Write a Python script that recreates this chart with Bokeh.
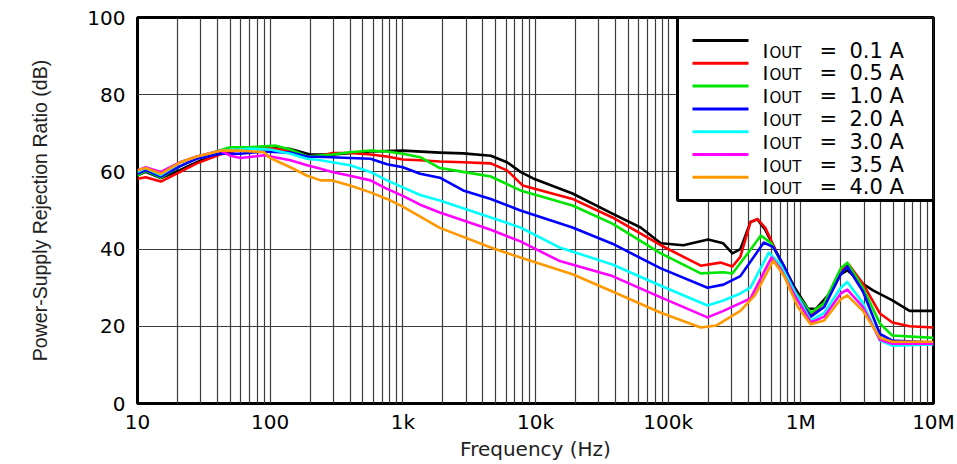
from bokeh.plotting import figure
from bokeh.models import FixedTicker, BoxAnnotation, Label, Range1d
from bokeh.embed import file_html
from bokeh.resources import INLINE

# ---- data ----
labels = ["0.1 A", "0.5 A", "1.0 A", "2.0 A", "3.0 A", "3.5 A", "4.0 A"]
colors = ["#000000", "#ff0000", "#00e600", "#0000ff", "#00ffff", "#ff00ff", "#ff9900"]

f_01 = [10, 11.5, 15, 21, 28, 42, 60, 90, 140, 200, 300, 570, 1000, 1900, 2850, 4600, 6100, 7700, 9600, 19000,
        38000, 62000, 88000, 130000, 200000, 260000, 305000, 350000, 417000, 471000, 540000, 660000, 900000,
        1130000, 1300000, 1600000, 2000000, 2240000, 2940000, 3500000, 4900000, 6600000, 10000000]
db_01 = [59.1, 60.0, 58.4, 60.5, 62.5, 65.0, 66.0, 66.5, 66.0, 64.5, 64.5, 65.3, 65.5, 65.0, 64.8, 64.2, 62.5, 60.0,
         58.3, 54.4, 49.2, 45.6, 41.5, 41.0, 42.5, 41.5, 38.9, 40.0, 47.0, 47.7, 45.0, 39.0, 30.0, 24.6, 24.5, 28.0,
         33.5, 34.5, 31.0, 29.3, 26.7, 24.0, 24.0]

f_05 = [10, 11.5, 15, 21, 28, 42, 60, 90, 140, 190, 240, 294, 400, 570, 760, 1000, 1350, 1900, 2850, 4600, 6100,
        8000, 19000, 38000, 88000, 176000, 248000, 305000, 350000, 417000, 471000, 540000, 660000, 900000, 1190000,
        1500000, 2000000, 2300000, 2940000, 3950000, 4900000, 6600000, 10000000]
db_05 = [58.2, 58.6, 57.5, 60.0, 62.2, 64.5, 65.8, 66.4, 65.5, 64.0, 64.2, 64.9, 64.9, 64.5, 64.0, 63.2, 63.0, 62.7,
         62.5, 62.2, 60.4, 56.5, 53.0, 48.2, 41.0, 35.7, 36.5, 35.5, 38.0, 47.0, 47.8, 45.5, 39.0, 29.0, 23.0, 26.0,
         34.5, 36.0, 31.0, 23.3, 21.0, 20.0, 19.7]

f_10 = [10, 11.5, 15, 21, 28, 42, 50, 70, 110, 142, 190, 294, 400, 570, 760, 1000, 1350, 1900, 2850, 4600, 7700,
        19000, 38000, 88000, 176000, 261000, 305000, 400000, 500000, 600000, 700000, 900000, 1190000, 1500000,
        2000000, 2240000, 2940000, 3950000, 4900000, 10000000]
db_10 = [59.0, 60.3, 58.5, 61.5, 63.5, 65.6, 66.4, 66.4, 66.8, 65.8, 64.0, 64.5, 65.1, 65.5, 65.3, 64.7, 63.8, 61.0,
         60.0, 58.8, 55.2, 51.3, 46.6, 38.9, 33.7, 34.0, 33.7, 39.0, 43.5, 41.5, 37.0, 29.0, 23.5, 26.0, 35.0, 36.5,
         30.0, 20.7, 17.6, 17.0]

f_20 = [10, 11.5, 15, 21, 28, 42, 60, 90, 142, 190, 294, 400, 570, 760, 1000, 1350, 1900, 2850, 4600, 7700, 19000,
        38000, 88000, 198000, 261000, 350000, 526000, 620000, 750000, 950000, 1190000, 1500000, 2000000, 2240000,
        2940000, 3950000, 4900000, 10000000]
db_20 = [59.5, 60.5, 58.8, 61.5, 63.4, 64.7, 64.7, 65.3, 65.0, 64.0, 63.8, 63.6, 63.4, 62.0, 61.2, 59.5, 58.5, 55.2,
         53.0, 50.0, 45.6, 41.4, 35.0, 30.0, 30.8, 33.0, 41.7, 40.5, 35.5, 27.5, 22.5, 25.0, 33.5, 35.5, 29.0, 18.0,
         16.3, 15.8]

f_30 = [10, 11.5, 15, 21, 28, 42, 70, 100, 142, 190, 240, 294, 400, 570, 760, 1000, 1350, 1900, 4600, 7700, 15000,
        38000, 88000, 198000, 261000, 350000, 417000, 574000, 700000, 900000, 1190000, 1500000, 2000000, 2240000,
        2940000, 3950000, 4900000, 10000000]
db_30 = [60.0, 61.0, 59.2, 62.5, 64.0, 65.5, 66.0, 65.8, 64.7, 63.4, 63.0, 62.5, 61.7, 60.0, 57.8, 56.0, 54.0, 52.6,
         48.2, 45.6, 40.5, 36.0, 30.5, 25.4, 26.7, 28.5, 30.0, 39.1, 36.0, 29.0, 21.5, 23.5, 30.0, 31.5, 26.0, 16.3,
         15.0, 15.3]

f_35 = [10, 11.5, 15, 21, 28, 42, 50, 60, 90, 142, 190, 240, 294, 400, 570, 760, 1000, 1350, 1900, 4600, 7700,
        15000, 38000, 88000, 198000, 261000, 350000, 417000, 600000, 700000, 900000, 1190000, 1500000, 2000000,
        2240000, 2940000, 3950000, 4900000, 10000000]
db_35 = [60.4, 61.2, 60.0, 62.5, 64.0, 65.5, 64.2, 63.6, 64.3, 63.0, 61.7, 60.8, 60.0, 59.0, 57.8, 55.6, 53.8, 51.5,
         49.5, 45.0, 42.0, 37.0, 33.0, 27.5, 22.3, 24.0, 26.0, 27.2, 37.8, 35.0, 28.0, 21.0, 22.5, 28.5, 29.5, 25.0,
         16.5, 15.5, 15.5]

f_40 = [10, 11.5, 15, 21, 28, 42, 60, 90, 100, 142, 190, 240, 294, 400, 570, 760, 1000, 1900, 4600, 7700, 19000,
        38000, 88000, 176000, 230000, 350000, 450000, 620000, 750000, 950000, 1190000, 1500000, 2000000, 2240000,
        2940000, 3950000, 4900000, 10000000]
db_40 = [60.4, 61.0, 59.5, 62.5, 64.0, 65.5, 65.5, 65.1, 63.6, 61.2, 59.0, 57.8, 57.8, 56.5, 54.7, 53.0, 51.0, 45.5,
         40.4, 37.8, 33.5, 29.0, 23.5, 19.7, 20.2, 24.0, 28.0, 37.0, 33.0, 25.0, 20.5, 21.5, 27.0, 28.0, 24.0, 17.0,
         16.0, 16.0]

x_ticks = [10, 100, 1000, 10000, 100000, 1000000, 10000000]
x_tick_labels = ["10", "100", "1k", "10k", "100k", "1M", "10M"]
y_ticks = [0, 20, 40, 60, 80, 100]

series_f = [f_01, f_05, f_10, f_20, f_30, f_35, f_40]
series_db = [db_01, db_05, db_10, db_20, db_30, db_35, db_40]

# ---- figure ----
FL, FR, FT, FB = 137, 933, 17, 403   # frame edges in page pixels
p = figure(width=957, height=464, x_axis_type="log",
           x_range=Range1d(10, 1e7), y_range=Range1d(0, 100),
           output_backend="svg", toolbar_location=None,
           min_border_left=FL, min_border_right=957 - FR,
           min_border_top=FT, min_border_bottom=464 - FB)
p.background_fill_color = "white"
p.border_fill_color = "white"
p.outline_line_color = "black"
p.outline_line_width = 3

minor = [m * d for d in x_ticks[:-1] for m in range(2, 10)]
xt = FixedTicker(ticks=x_ticks, minor_ticks=minor)
p.xaxis.ticker = xt
p.xaxis.major_label_overrides = {t: s for t, s in zip(x_ticks, x_tick_labels)}
p.yaxis.ticker = FixedTicker(ticks=y_ticks)

for ax in (p.xaxis, p.yaxis):
    ax.axis_line_color = None
    ax.major_tick_line_color = None
    ax.minor_tick_line_color = None
    ax.major_tick_out = 0
    ax.major_tick_in = 0
    ax.minor_tick_out = 0
    ax.minor_tick_in = 0
    ax.major_label_text_font = "DejaVu Sans"
    ax.major_label_text_font_size = "20px"
    ax.major_label_text_color = "black"
    ax.axis_label_text_font_style = "normal"
    ax.axis_label_text_color = "#222222"

p.xaxis.axis_label = "Frequency (Hz)"
p.xaxis.axis_label_text_font = "DejaVu Sans"
p.xaxis.axis_label_text_font_size = "20px"
p.xaxis.major_label_standoff = 6
p.xaxis.axis_label_standoff = 0

p.yaxis.axis_label = "Power-Supply Rejection Ratio (dB)"
p.yaxis.axis_label_text_font = "Liberation Sans"
p.yaxis.axis_label_text_font_size = "19.5px"
p.yaxis.major_label_standoff = 12
p.yaxis.axis_label_standoff = 33

p.xgrid.ticker = xt
p.xgrid.grid_line_color = "#3c3c3c"
p.xgrid.grid_line_width = 1.2
p.xgrid.minor_grid_line_color = "#3c3c3c"
p.xgrid.minor_grid_line_width = 1.2
p.ygrid.ticker = FixedTicker(ticks=y_ticks)
p.ygrid.grid_line_color = "#3c3c3c"
p.ygrid.grid_line_width = 1.2

for fx, dbs, c in zip(series_f, series_db, colors):
    p.line(fx, dbs, line_color=c, line_width=2.6, line_join="round")

# ---- legend (built by hand to get the subscript) ----
def sx(px):
    return 10 ** (1 + (px - FL) / ((FR - FL) / 6.0))

def sy(py):
    return (FB - py) / ((FB - FT) / 100.0)

box = BoxAnnotation(left=sx(677), right=1e7, bottom=sy(200), top=100,
                    fill_color="white", fill_alpha=1.0, line_color="black",
                    line_width=3, line_alpha=1.0)
p.add_layout(box)

row0, step = 40.0, 22.8
for i, (lab, c) in enumerate(zip(labels, colors)):
    yl = row0 + i * step
    p.line([sx(692), sx(748)], [sy(yl), sy(yl)], line_color=c, line_width=3, level="overlay")
    base = sy(yl + 10)
    p.add_layout(Label(x=sx(762), y=base, text="I", text_font="DejaVu Sans",
                       text_font_size="20px", text_baseline="alphabetic", text_color="black",
                       level="overlay"))
    p.add_layout(Label(x=sx(769), y=sy(yl + 12), text="OUT", text_font="DejaVu Sans",
                       text_font_size="15px", text_baseline="alphabetic", text_color="black",
                       level="overlay"))
    p.add_layout(Label(x=sx(819), y=base, text="=", text_font="DejaVu Sans",
                       text_font_size="21px", text_baseline="alphabetic", text_color="black",
                       level="overlay"))
    p.add_layout(Label(x=sx(849), y=base, text=lab, text_font="DejaVu Sans",
                       text_font_size="21px", text_baseline="alphabetic", text_color="black",
                       level="overlay"))

open("out.html", "w").write(file_html(p, INLINE))
